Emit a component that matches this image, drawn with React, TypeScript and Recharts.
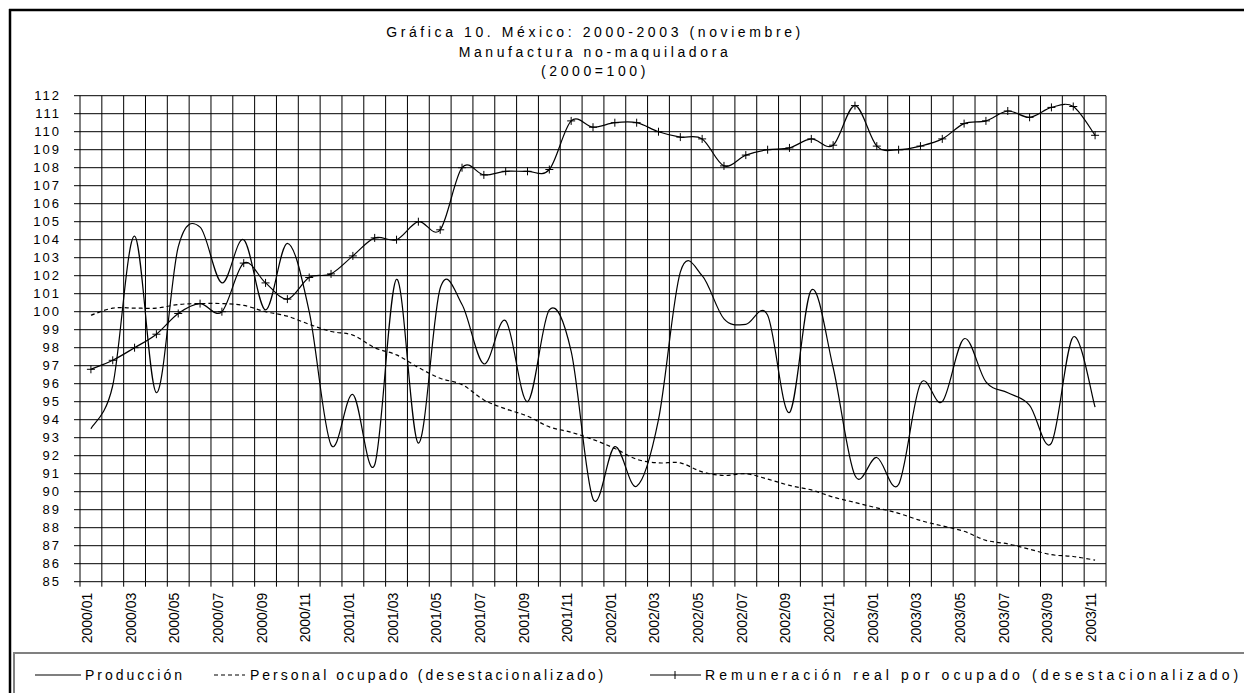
import React from "react";
import { LineChart, Line, XAxis, YAxis, CartesianGrid } from "recharts";

const months = [
  "2000/01", "2000/02", "2000/03", "2000/04", "2000/05", "2000/06", "2000/07", "2000/08", "2000/09", "2000/10", "2000/11", "2000/12",
  "2001/01", "2001/02", "2001/03", "2001/04", "2001/05", "2001/06", "2001/07", "2001/08", "2001/09", "2001/10", "2001/11", "2001/12",
  "2002/01", "2002/02", "2002/03", "2002/04", "2002/05", "2002/06", "2002/07", "2002/08", "2002/09", "2002/10", "2002/11", "2002/12",
  "2003/01", "2003/02", "2003/03", "2003/04", "2003/05", "2003/06", "2003/07", "2003/08", "2003/09", "2003/10", "2003/11",
];

const produccion = [
  93.5, 95.9, 104.2, 95.5, 103.6, 104.7, 101.6, 104.0, 100.1, 103.8, 100.0, 92.6,
  95.4, 91.5, 101.8, 92.7, 101.3, 100.4, 97.1, 99.5, 95.0, 100.1, 97.8, 89.6,
  92.5, 90.3, 94.0, 102.2, 102.0, 99.6, 99.3, 99.8, 94.4, 101.2, 96.9, 90.9,
  91.9, 90.4, 96.0, 95.0, 98.5, 96.1, 95.5, 94.8, 92.7, 98.6, 94.7,
];

const personal = [
  99.8, 100.2, 100.2, 100.2, 100.4, 100.45, 100.45, 100.35, 100.0, 99.75, 99.3, 98.9,
  98.7, 98.0, 97.6, 96.9, 96.3, 95.95, 95.1, 94.6, 94.2, 93.6, 93.3, 92.9,
  92.4, 91.8, 91.6, 91.6, 91.1, 90.9, 91.0, 90.7, 90.35, 90.1, 89.7, 89.4,
  89.1, 88.8, 88.4, 88.1, 87.8, 87.3, 87.1, 86.8, 86.5, 86.4, 86.2,
];

const remuneracion = [
  96.8, 97.3, 98.0, 98.75, 99.9, 100.45, 100.0, 102.7, 101.6, 100.7, 101.9, 102.1,
  103.1, 104.1, 104.0, 105.0, 104.55, 108.0, 107.6, 107.8, 107.8, 107.9, 110.6, 110.25,
  110.5, 110.5, 110.0, 109.7, 109.6, 108.1, 108.7, 109.0, 109.1, 109.6, 109.25, 111.45,
  109.2, 109.0, 109.2, 109.6, 110.45, 110.6, 111.15, 110.8, 111.35, 111.4, 109.8,
];

const yTicks = [85, 86, 87, 88, 89, 90, 91, 92, 93, 94, 95, 96, 97, 98, 99, 100, 101, 102, 103, 104, 105, 106, 107, 108, 109, 110, 111, 112];

const titleLines = ["Gráfica 10. México: 2000-2003 (noviembre)", "Manufactura no-maquiladora", "(2000=100)"];
const legendNames = ["Producción", "Personal ocupado (desestacionalizado)", "Remuneración real por ocupado (desestacionalizado)"];

const data = months.map((m, i) => ({
  idx: i + 1,
  month: m,
  produccion: produccion[i],
  personal: personal[i],
  remuneracion: remuneracion[i],
}));

// month boundaries for grid lines / tick marks, month centres for labels
const bounds = months.map((_, i) => i + 0.5).concat([months.length + 0.5]);
const xTicks = bounds.concat(months.map((_, i) => i + 1)).sort((a, b) => a - b);

const FONT = "'Liberation Sans', Arial, sans-serif";

// Excel-like smoothed line (Catmull-Rom through the points)
function excelSmooth(context: any) {
  let pts: number[][] = [];
  return {
    areaStart() {},
    areaEnd() {},
    lineStart() {
      pts = [];
    },
    lineEnd() {
      if (!pts.length) return;
      context.moveTo(pts[0][0], pts[0][1]);
      for (let i = 0; i < pts.length - 1; i++) {
        const p0 = pts[i - 1] || pts[i];
        const p1 = pts[i];
        const p2 = pts[i + 1];
        const p3 = pts[i + 2] || p2;
        context.bezierCurveTo(
          p1[0] + (p2[0] - p0[0]) / 6,
          p1[1] + (p2[1] - p0[1]) / 6,
          p2[0] - (p3[0] - p1[0]) / 6,
          p2[1] - (p3[1] - p1[1]) / 6,
          p2[0],
          p2[1]
        );
      }
    },
    point(x: number, y: number) {
      pts.push([+x, +y]);
    },
  };
}

const XTick = (props: any) => {
  const { x, y, payload } = props;
  const v = payload.value;
  if (v % 1 !== 0) {
    return <line x1={x} x2={x} y1={y} y2={y + 5} stroke="#000" strokeWidth={1} />;
  }
  if (v % 2 === 1) {
    return (
      <text
        transform={`translate(${x + 1},${y + 11}) rotate(-90)`}
        textAnchor="end"
        fontSize={14}
        fontFamily={FONT}
        fill="#000"
      >
        {months[v - 1]}
      </text>
    );
  }
  return <g />;
};

const PlusDot = (props: any) => {
  const { cx, cy } = props;
  if (cx == null || cy == null) return <g />;
  return (
    <g>
      <line x1={cx - 4} x2={cx + 4} y1={cy} y2={cy} stroke="#000" strokeWidth={1} />
      <line x1={cx} x2={cx} y1={cy - 4} y2={cy + 4} stroke="#000" strokeWidth={1} />
    </g>
  );
};

export default function App() {
  return (
    <div style={{ position: "absolute", left: 0, top: 0, width: 1244, height: 693, overflow: "hidden", background: "#fff" }}>
      <div style={{ position: "absolute", left: 0, top: 0 }}>
        <LineChart width={1244} height={693} data={data} margin={{ top: 95.7, right: 138, bottom: 51.3, left: 20 }}>
          <CartesianGrid xAxisId="g" stroke="#000" strokeWidth={1} />
          <XAxis
            xAxisId="x"
            dataKey="idx"
            type="number"
            domain={[0.5, 47.5]}
            allowDataOverflow
            ticks={xTicks}
            interval={0}
            tick={<XTick />}
            tickLine={false}
            axisLine={false}
            tickSize={0}
            tickMargin={0}
            height={60}
          />
          <XAxis
            xAxisId="g"
            dataKey="idx"
            type="number"
            domain={[0.5, 47.5]}
            allowDataOverflow
            ticks={bounds}
            interval={0}
            height={0}
            hide
          />
          <YAxis
            domain={[85, 112]}
            ticks={yTicks}
            interval={0}
            width={60}
            axisLine={false}
            tickSize={6}
            tickMargin={13}
            tickLine={{ stroke: "#000" }}
            tick={{ fontSize: 13, fill: "#000", fontFamily: FONT, letterSpacing: 2 }}
          />
          <Line
            xAxisId="x"
            dataKey="produccion"
            type={excelSmooth as any}
            stroke="#000"
            strokeWidth={1.2}
            dot={false}
            isAnimationActive={false}
          />
          <Line
            xAxisId="x"
            dataKey="personal"
            type={excelSmooth as any}
            stroke="#000"
            strokeWidth={1.2}
            strokeDasharray="4 3"
            dot={false}
            isAnimationActive={false}
          />
          <Line
            xAxisId="x"
            dataKey="remuneracion"
            type={excelSmooth as any}
            stroke="#000"
            strokeWidth={1.2}
            dot={<PlusDot />}
            isAnimationActive={false}
          />
        </LineChart>
      </div>
      <svg width={1244} height={693} style={{ position: "absolute", left: 0, top: 0, pointerEvents: "none" }}>
        <line x1={9} x2={1244} y1={10} y2={10} stroke="#000" strokeWidth={2.5} />
        <line x1={10} x2={10} y1={9} y2={693} stroke="#000" strokeWidth={2.5} />
        <g fontFamily={FONT} fontSize={14} fill="#000" letterSpacing={3.6} textAnchor="middle">
          <text x={595} y={37}>{titleLines[0]}</text>
          <text x={595} y={56.5}>{titleLines[1]}</text>
          <text x={595} y={76}>{titleLines[2]}</text>
        </g>
        <line x1={14} x2={1244} y1={653} y2={653} stroke="#808080" strokeWidth={2} />
        <line x1={14} x2={14} y1={652} y2={693} stroke="#808080" strokeWidth={2} />
        <g fontFamily={FONT} fontSize={14} fill="#000">
          <line x1={35} x2={81} y1={675} y2={675} stroke="#000" strokeWidth={1.2} />
          <text x={85} y={680} letterSpacing={3}>{legendNames[0]}</text>
          <line x1={214} x2={245} y1={675} y2={675} stroke="#000" strokeWidth={1.2} strokeDasharray="4 3" />
          <text x={250} y={680} letterSpacing={3}>{legendNames[1]}</text>
          <line x1={650} x2={701} y1={675} y2={675} stroke="#000" strokeWidth={1.2} />
          <line x1={675} x2={675} y1={671} y2={679} stroke="#000" strokeWidth={1} />
          <text x={705} y={680} letterSpacing={4.1}>{legendNames[2]}</text>
        </g>
      </svg>
    </div>
  );
}
